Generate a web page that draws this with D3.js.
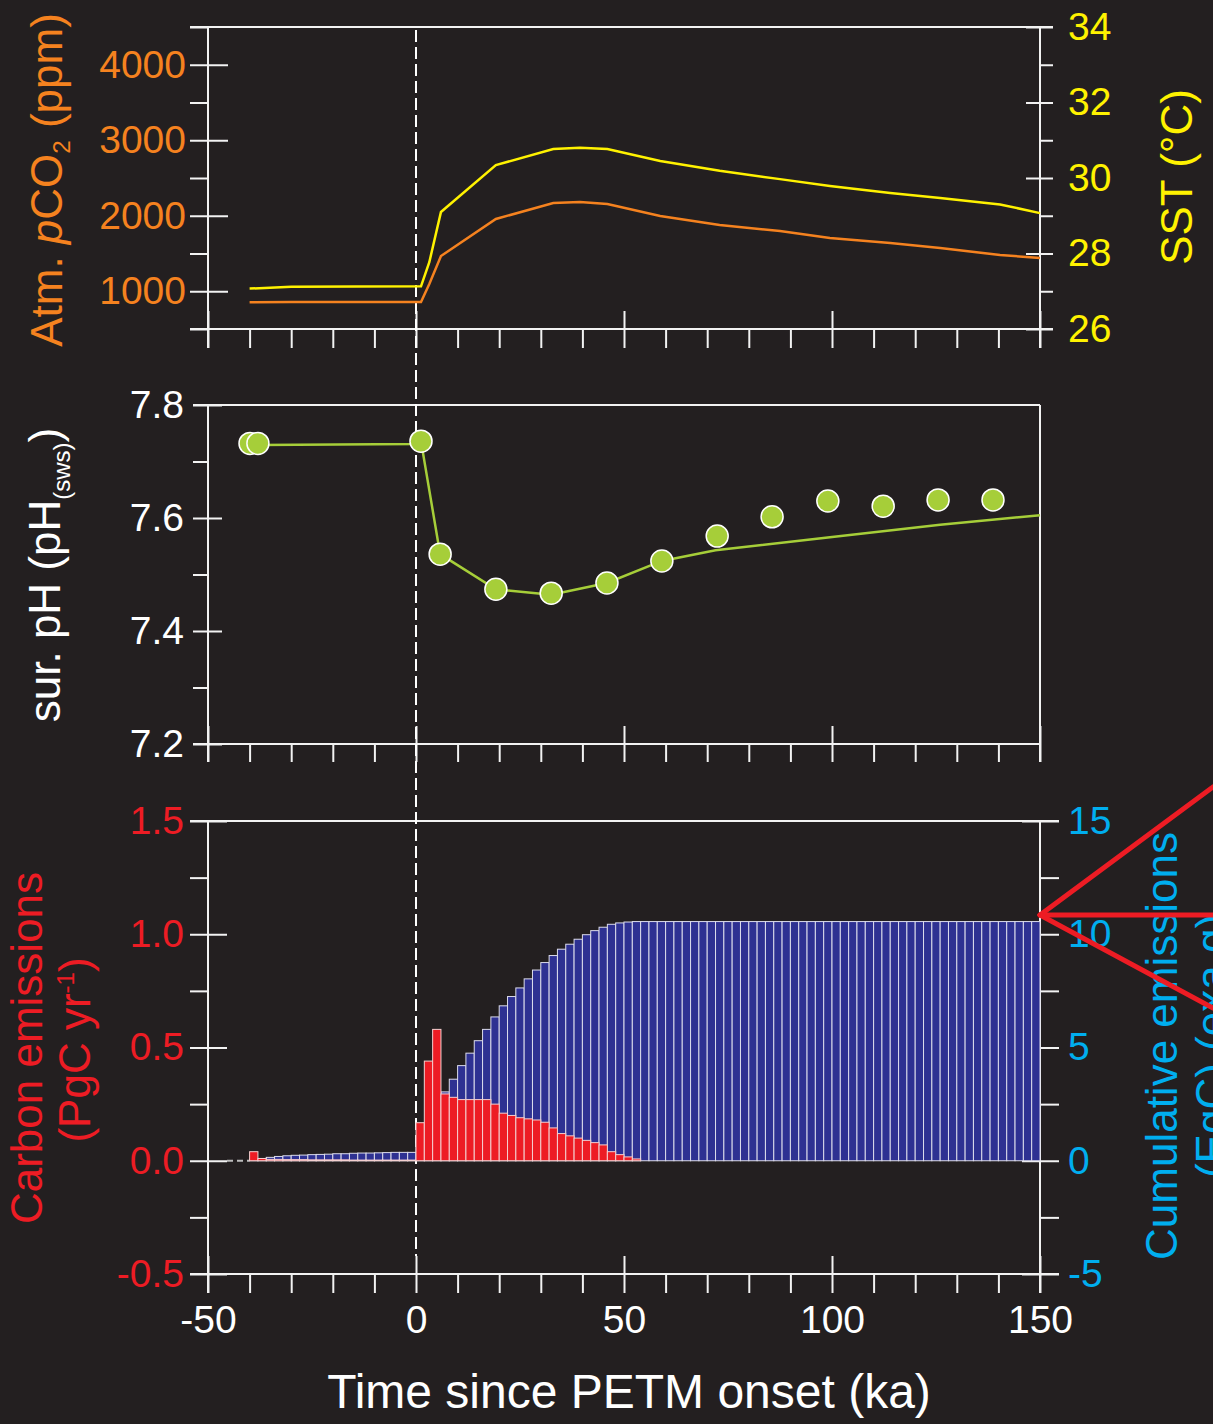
<!DOCTYPE html>
<html><head><meta charset="utf-8">
<script src="https://cdn.jsdelivr.net/npm/d3@7"></script>
<style>
html,body{margin:0;padding:0;background:#231f20;}
svg{display:block;}
</style></head><body><svg id="c" width="1213" height="1424"></svg>
<script>
// ---------- DATA ----------
const lineTime = [-40, -30, 1.2, 3.2, 6, 19.2, 33, 39.4, 46, 58.7, 73, 87.5, 99.5, 114, 126, 140.4, 150];
const sstVals  = [27.07, 27.12, 27.13, 27.77, 29.1, 30.34, 30.77, 30.8, 30.77, 30.45, 30.19, 29.97, 29.79, 29.6, 29.47, 29.3, 29.07];
const co2Vals  = [855, 858, 858, 1096, 1467, 1957, 2169, 2182, 2156, 1997, 1877, 1798, 1705, 1639, 1573, 1480, 1440];

const phLineTime = [-38, 0, 1.2, 5.8, 19.2, 32.5, 45.9, 59.1, 72, 99.5, 126, 150];
const phLineVals = [7.729, 7.731, 7.736, 7.536, 7.474, 7.464, 7.485, 7.524, 7.543, 7.566, 7.588, 7.605];
const phPtTime = [-39.9, -38, 1.2, 5.8, 19.2, 32.5, 45.9, 59.1, 72.4, 85.6, 99, 112.3, 125.5, 138.7];
const phPtVals = [7.732, 7.732, 7.736, 7.536, 7.474, 7.467, 7.485, 7.524, 7.568, 7.602, 7.630, 7.621, 7.632, 7.632];

const binStart = d3.range(-40, 150, 2); // 2-ka bins
const emisVals = [0.04, 0.01, 0.006, 0.006, 0.005, 0.005, 0.005, 0.004, 0.004, 0.004,
  0.004, 0.004, 0.003, 0.003, 0.003, 0.003, 0.003, 0.003, 0.003, 0.003,
  0.168, 0.44, 0.58, 0.295, 0.28, 0.27, 0.27, 0.27, 0.27, 0.25,
  0.21, 0.20, 0.19, 0.185, 0.18, 0.17, 0.145, 0.12, 0.11, 0.10,
  0.09, 0.08, 0.07, 0.04, 0.027, 0.017, 0.008,
  0,0,0,0,0,0,0,0,0,0, 0,0,0,0,0,0,0,0,0,0, 0,0,0,0,0,0,0,0,0,0,
  0,0,0,0,0,0,0,0,0,0, 0,0,0,0,0,0,0,0];
const cumVals = [0.08, 0.1, 0.15, 0.19, 0.22, 0.24, 0.25, 0.27, 0.28, 0.29,
  0.31, 0.31, 0.33, 0.34, 0.34, 0.35, 0.36, 0.37, 0.37, 0.37,
  0.75, 1.6, 2.75, 3.04, 3.6, 4.2, 4.75, 5.3, 5.8, 6.35,
  6.84, 7.25, 7.63, 8.03, 8.42, 8.75, 9.06, 9.34, 9.56, 9.78,
  9.98, 10.16, 10.31, 10.44, 10.5, 10.54,
  10.56,10.56,10.56,10.56,10.56,10.56,10.56,10.56,10.56,10.56,
  10.56,10.56,10.56,10.56,10.56,10.56,10.56,10.56,10.56,10.56,
  10.56,10.56,10.56,10.56,10.56,10.56,10.56,10.56,10.56,10.56,
  10.56,10.56,10.56,10.56,10.56,10.56,10.56,10.56,10.56,10.56,
  10.56,10.56,10.56,10.56,10.56,10.56,10.56,10.56,10.56];
const calloutValue = 10.85; // apex of the red call-out lines, on the cumulative axis

const xMajor = [-50, 0, 50, 100, 150];
const xMinor = [-40, -30, -20, -10, 10, 20, 30, 40, 60, 70, 80, 90, 110, 120, 130, 140];
const co2Major = [1000, 2000, 3000, 4000], co2Minor = [500, 1500, 2500, 3500, 4500];
const sstMajor = [26, 28, 30, 32, 34], sstMinor = [27, 29, 31, 33];
const phMajor = [7.2, 7.4, 7.6, 7.8], phMinor = [7.3, 7.5, 7.7];
const emMajor = [-0.5, 0, 0.5, 1.0, 1.5], emMinor = [-0.25, 0.25, 0.75, 1.25];
const cumMajor = [-5, 0, 5, 10, 15], cumMinor = [-2.5, 2.5, 7.5, 12.5];

// ---------- STYLE ----------
const FONT = '"Liberation Sans", Arial, Helvetica, sans-serif';
const BG = "#231f20", AX = "#f2f2f2";
const ORANGE = "#f5821f", YELLOW = "#fff200", GREEN = "#a6ce39", RED = "#ed1c24", CYAN = "#00aeef", NAVY = "#2e3192";
const TICKFS = 39, TITLEFS = 44;

const svg = d3.select("#c");
svg.append("rect").attr("width", 1213).attr("height", 1424).attr("fill", BG);

// ---------- SCALES ----------
const x = d3.scaleLinear([-50, 150], [208, 1040]);
const yCO2 = d3.scaleLinear([500, 4500], [329, 27]);
const ySST = d3.scaleLinear([26, 34], [329, 27]);
const yPH = d3.scaleLinear([7.2, 7.8], [744, 405]);
const yEm = d3.scaleLinear([-0.5, 1.5], [1274, 821]);
const yCum = d3.scaleLinear([-5, 15], [1274, 821]);

const X0 = x(-50), X1 = x(150);

function fmt1(d) { return d.toFixed(1); }
function fmt0(d) { return String(d); }

function styleAxis(g, color) {
  g.select(".domain").remove();
  g.attr("font-family", FONT).attr("font-size", TICKFS);
  g.selectAll("line").attr("stroke", AX).attr("stroke-width", 2);
  g.selectAll("text").attr("fill", color);
}
function leftAxis(scale, majors, minors, outLen, inLen, pad, color, f) {
  const g1 = svg.append("g").attr("transform", `translate(${X0},0)`)
    .call(d3.axisLeft(scale).tickValues(majors).tickSize(outLen).tickPadding(pad).tickFormat(f));
  styleAxis(g1, color);
  g1.selectAll(".tick line").attr("x1", inLen);
  const g2 = svg.append("g").attr("transform", `translate(${X0},0)`)
    .call(d3.axisLeft(scale).tickValues(minors).tickSize(outLen).tickFormat(""));
  styleAxis(g2, color);
}
function rightAxis(scale, majors, minors, outLen, inLen, pad, color, f) {
  const g1 = svg.append("g").attr("transform", `translate(${X1},0)`)
    .call(d3.axisRight(scale).tickValues(majors).tickSize(outLen).tickPadding(pad).tickFormat(f));
  styleAxis(g1, color);
  g1.selectAll(".tick line").attr("x1", -inLen);
  const g2 = svg.append("g").attr("transform", `translate(${X1},0)`)
    .call(d3.axisRight(scale).tickValues(minors).tickSize(outLen).tickFormat(""));
  styleAxis(g2, color);
}
function bottomAxis(y0, outLen, inLen, labels) {
  const g1 = svg.append("g").attr("transform", `translate(0,${y0})`)
    .call(d3.axisBottom(x).tickValues(xMajor).tickSize(outLen).tickPadding(12).tickFormat(labels ? fmt0 : ""));
  styleAxis(g1, "#ffffff");
  g1.selectAll(".tick line").attr("y1", -inLen);
  const g2 = svg.append("g").attr("transform", `translate(0,${y0})`)
    .call(d3.axisBottom(x).tickValues(xMinor).tickSize(outLen).tickFormat(""));
  styleAxis(g2, "#ffffff");
}
function line(x1, y1, x2, y2) {
  svg.append("line").attr("x1", x1).attr("y1", y1).attr("x2", x2).attr("y2", y2)
    .attr("stroke", AX).attr("stroke-width", 2);
}

// ---------- PANEL 1 frame ----------
line(190, yCO2(4500), 1053, yCO2(4500));
line(190, yCO2(500), 1053, yCO2(500));
line(X0, yCO2(4500), X0, yCO2(500) + 19);
line(X1, yCO2(4500), X1, yCO2(500) + 19);
leftAxis(yCO2, co2Major, co2Minor, 18, 20, 4, ORANGE, fmt0);
rightAxis(ySST, sstMajor, sstMinor, 13, 14, 15, YELLOW, fmt0);
bottomAxis(yCO2(500), 19, 18, false);

// ---------- PANEL 2 frame ----------
line(193, yPH(7.8), X1, yPH(7.8));
line(193, yPH(7.2), X1, yPH(7.2));
line(X0, yPH(7.8), X0, yPH(7.2) + 18);
line(X1, yPH(7.8), X1, yPH(7.2) + 18);
leftAxis(yPH, phMajor, phMinor, 15, 14, 9, "#ffffff", fmt1);
bottomAxis(yPH(7.2), 18, 18, false);

// ---------- PANEL 3 frame ----------
line(190, yEm(1.5), 1059, yEm(1.5));
line(190, yEm(-0.5), 1059, yEm(-0.5));
line(X0, yEm(1.5), X0, yEm(-0.5) + 19);
line(X1, yEm(1.5), X1, yEm(-0.5) + 19);
leftAxis(yEm, emMajor, emMinor, 18, 19, 6, RED, fmt1);
rightAxis(yCum, cumMajor, cumMinor, 19, 18, 9, CYAN, fmt0);
bottomAxis(yEm(-0.5), 19, 18, true);

// dashed zero stub before first bar
svg.append("line").attr("x1", 227).attr("x2", x(-40)).attr("y1", yEm(0)).attr("y2", yEm(0))
  .attr("stroke", "#bdbdbd").attr("stroke-width", 2).attr("stroke-dasharray", "6,4");

// ---------- onset dashed line ----------
svg.append("line").attr("x1", x(0)).attr("x2", x(0)).attr("y1", 30).attr("y2", yEm(-0.5) - 18)
  .attr("stroke", "#ffffff").attr("stroke-width", 2).attr("stroke-dasharray", "12,5");

// ---------- PANEL 1 lines ----------
const lg1 = d3.line().x((d, i) => x(lineTime[i])).y(d => yCO2(d));
svg.append("path").attr("d", lg1(co2Vals)).attr("fill", "none").attr("stroke", ORANGE).attr("stroke-width", 2.5);
const lg2 = d3.line().x((d, i) => x(lineTime[i])).y(d => ySST(d));
svg.append("path").attr("d", lg2(sstVals)).attr("fill", "none").attr("stroke", YELLOW).attr("stroke-width", 2.5);

// ---------- PANEL 2 ----------
const lg3 = d3.line().x((d, i) => x(phLineTime[i])).y(d => yPH(d));
svg.append("path").attr("d", lg3(phLineVals)).attr("fill", "none").attr("stroke", GREEN).attr("stroke-width", 2.5);
svg.append("g").selectAll("circle").data(phPtVals).join("circle")
  .attr("cx", (d, i) => x(phPtTime[i])).attr("cy", d => yPH(d)).attr("r", 11)
  .attr("fill", GREEN).attr("stroke", "#ffffff").attr("stroke-width", 1.5);

// ---------- PANEL 3 bars ----------
svg.append("g").selectAll("rect").data(cumVals).join("rect")
  .attr("x", (d, i) => x(binStart[i])).attr("width", (d, i) => x(binStart[i] + 2) - x(binStart[i]))
  .attr("y", d => yCum(d)).attr("height", d => yCum(0) - yCum(d))
  .attr("fill", NAVY).attr("stroke", "#dcdcec").attr("stroke-width", 1);
svg.append("g").selectAll("rect").data(emisVals).join("rect")
  .attr("x", (d, i) => x(binStart[i])).attr("width", (d, i) => x(binStart[i] + 2) - x(binStart[i]))
  .attr("y", d => yEm(d)).attr("height", d => yEm(0) - yEm(d))
  .attr("fill", RED).attr("stroke", d => d > 0 ? "#f4d0d0" : "none").attr("stroke-width", 1);

// ---------- TITLES ----------
function rotText(cx, cy, color) {
  return svg.append("text").attr("transform", `translate(${cx},${cy}) rotate(-90)`)
    .attr("text-anchor", "middle").attr("font-family", FONT).attr("font-size", TITLEFS).attr("fill", color);
}
let t = rotText(62, 180, ORANGE);
t.append("tspan").text("Atm. ");
t.append("tspan").attr("font-style", "italic").text("p");
t.append("tspan").text("CO");
t.append("tspan").attr("font-size", 24).attr("dy", 8).text("2");
t.append("tspan").attr("dy", -8).text(" (ppm)");

t = rotText(1192, 177, YELLOW);
t.text("SST (°C)");

t = rotText(60, 575, "#ffffff");
t.append("tspan").text("sur. pH (pH");
t.append("tspan").attr("font-size", 24).attr("dy", 10).text("(sws)");
t.append("tspan").attr("dy", -10).text(")");

t = rotText(42, 1048, RED);
t.text("Carbon emissions");
t = rotText(90, 1050, RED);
t.append("tspan").text("(PgC yr");
t.append("tspan").attr("font-size", 24).attr("dy", -16).text("-1");
t.append("tspan").attr("dy", 16).text(")");

t = rotText(1177, 1046, CYAN);
t.text("Cumulative emissions");
t = rotText(1227, 1046, CYAN);
t.text("(EgC) (exa g)");

svg.append("text").attr("x", (x(-50) + x(150)) / 2 + 5).attr("y", 1408).attr("text-anchor", "middle")
  .attr("font-family", FONT).attr("font-size", 48).attr("fill", "#ffffff").text("Time since PETM onset (ka)");

// ---------- red call-out lines ----------
const ax = x(150), ay = yCum(calloutValue);
[[1213, ay - 128], [1213, ay], [1213, ay + 93]].forEach(p => {
  svg.append("line").attr("x1", ax).attr("y1", ay).attr("x2", p[0]).attr("y2", p[1])
    .attr("stroke", RED).attr("stroke-width", 5).attr("stroke-linecap", "round");
});
</script></body></html>
